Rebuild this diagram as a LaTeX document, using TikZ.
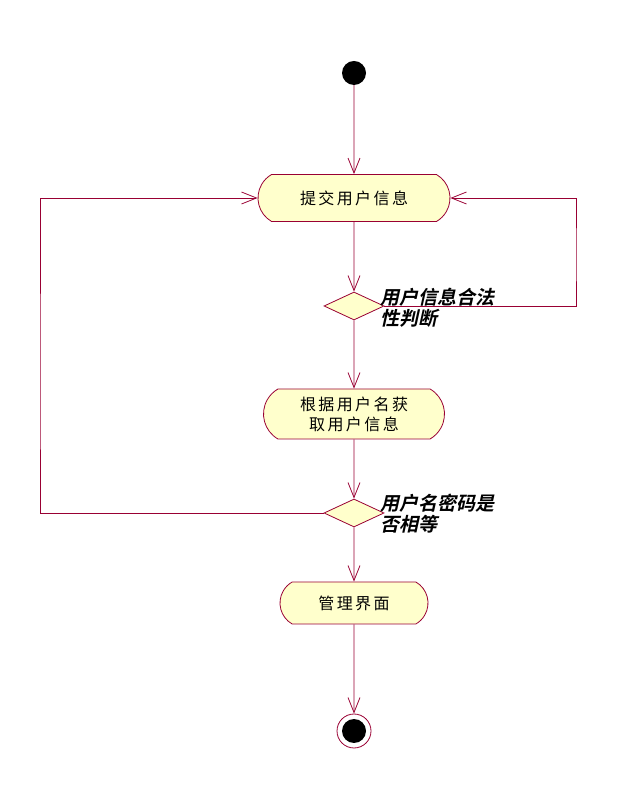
\documentclass[tikz,border=0pt]{standalone}
\usepackage{fontspec}
\usepackage{tikz}
\usetikzlibrary{arrows.meta, positioning, shapes.geometric, shapes.misc}

\newfontfamily\cjkact{Noto Sans CJK SC}[LetterSpace=15]
\newfontfamily\cjklab{Noto Sans CJK SC Bold}[FakeSlant=0.22]
\definecolor{umlline}{RGB}{153,0,51}
\definecolor{umlfill}{RGB}{255,255,204}

\tikzset{
  activity/.style={rounded rectangle, rounded rectangle arc length=120, draw=umlline, fill=umlfill, line width=0.8pt, inner sep=0pt, align=center, font=\cjkact\fontsize{16pt}{20pt}\selectfont},
  decision/.style={diamond, draw=umlline, fill=umlfill, line width=0.8pt, inner sep=0pt, minimum width=60pt, minimum height=28pt},
  guard/.style={inner sep=0pt, align=left, font=\cjklab\fontsize{19pt}{21pt}\selectfont},
  flow/.style={draw=umlline, line width=0.8pt, -{Straight Barb[length=15pt,width=12pt]}},
}

\begin{document}
\begin{tikzpicture}[x=1pt, y=1pt]
    \useasboundingbox (0,0) rectangle (617,787);
    \node[circle, fill=black, minimum size=24pt, inner sep=0pt] (start) at (354,714) {};
    \node[activity, minimum width=192pt, minimum height=47pt, node distance=125pt, below of=start] (submit) {提交用户信息};
    \node[decision, node distance=108pt, below of=submit] (check) {};
    \node[activity, minimum width=181pt, minimum height=50pt, node distance=108pt, below of=check] (fetch) {根据用户名获\\取用户信息};
    \node[decision, node distance=99pt, below of=fetch] (match) {};
    \node[activity, minimum width=148pt, minimum height=42pt, node distance=90pt, below of=match] (manage) {管理界面};
    \node[circle, draw=umlline, line width=0.8pt, minimum size=34pt, inner sep=0pt, node distance=128pt, below of=manage,
          path picture={\fill[black] (path picture bounding box.center) circle (12pt);}] (stop) {};
    \node[guard, right=-4pt of check, yshift=-2pt] (checklabel) {用户信息合法\\性判断};
    \node[guard, right=-4pt of match, yshift=-1pt] (matchlabel) {用户名密码是\\否相等};
    \coordinate (rcorner) at (576,530);
    \coordinate (lcorner) at (40,400);
    \draw[flow] (start) -- (submit);
    \draw[flow] (submit) -- (check);
    \draw[flow] (check) -- (fetch);
    \draw[flow] (fetch) -- (match);
    \draw[flow] (match) -- (manage);
    \draw[flow] (manage) -- (stop);
    \draw[flow] (check.east) -| (rcorner) |- (submit.east);
    \draw[flow] (match.west) -| (lcorner) |- (submit.west);
\end{tikzpicture}
\end{document}
